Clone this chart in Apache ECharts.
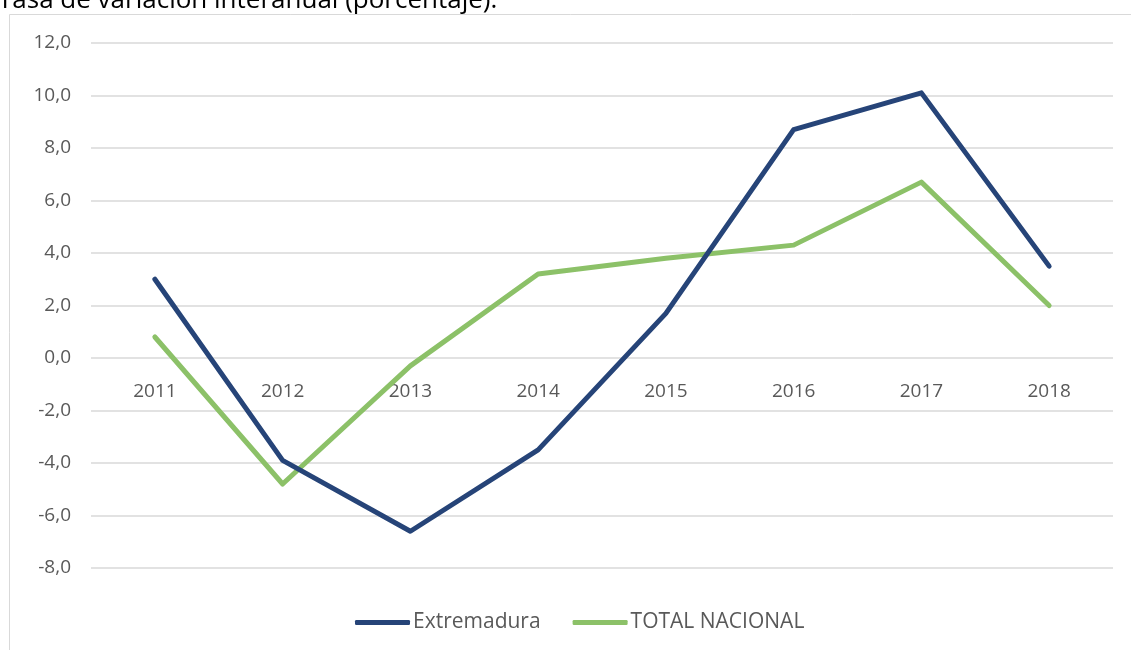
<!DOCTYPE html>
<html>
<head>
<meta charset="utf-8">
<script src="https://cdn.jsdelivr.net/npm/echarts@6/dist/echarts.min.js"></script>
<style>
  html, body { margin: 0; padding: 0; background: #fff; }
  #chart { width: 1131px; height: 650px; }
</style>
</head>
<body>
<div id="chart"></div>
<script>
// Year-on-year variation rate (%)
const years = ['2011', '2012', '2013', '2014', '2015', '2016', '2017', '2018'];
const extremadura = [3.0, -3.9, -6.6, -3.5, 1.7, 8.7, 10.1, 3.5];
const totalNacional = [0.8, -4.8, -0.3, 3.2, 3.8, 4.3, 6.7, 2.0];
const yTicks = { min: -8, max: 12, interval: 2 };

const FONT = '"Open Sans", "Noto Sans", sans-serif';
const GRID = { left: 91, right: 18, top: 43, bottom: 82 };
const CHART_H = 650;

// Category labels sit on the zero line: shift the x axis up from the
// bottom edge of the plot by the distance between min and 0.
const plotH = CHART_H - GRID.top - GRID.bottom;
const zeroOffset = -plotH * (0 - yTicks.min) / (yTicks.max - yTicks.min);

const chart = echarts.init(document.getElementById('chart'), null, { renderer: 'canvas' });

chart.setOption({
  animation: false,
  backgroundColor: '#ffffff',
  textStyle: { fontFamily: FONT },
  graphic: [
    {
      type: 'rect',
      shape: { x: 9.5, y: 14.5, width: 1200, height: 700 },
      style: { fill: 'none', stroke: '#d9d9d9', lineWidth: 1 },
      z: -10
    },
    {
      type: 'text',
      x: -2,
      y: -12,
      style: {
        text: 'Tasa de variación interanual (porcentaje).',
        fontFamily: FONT,
        fontSize: 26,
        fill: '#000000'
      }
    }
  ],
  grid: GRID,
  legend: {
    top: 607,
    left: 350,
    itemWidth: 55,
    itemHeight: 5,
    itemGap: 32,
    icon: 'roundRect',
    textStyle: { fontSize: 21, color: '#595959', fontFamily: FONT, padding: [0, 0, 0, -2] },
    data: ['Extremadura', 'TOTAL NACIONAL']
  },
  xAxis: {
    type: 'category',
    data: years,
    boundaryGap: true,
    offset: zeroOffset,
    axisLine: { show: false },
    axisTick: { show: false },
    axisLabel: { color: '#595959', fontSize: 19, margin: 24, fontFamily: FONT }
  },
  yAxis: {
    type: 'value',
    min: yTicks.min,
    max: yTicks.max,
    interval: yTicks.interval,
    axisLine: { show: false },
    axisTick: { show: false },
    axisLabel: {
      color: '#595959',
      fontSize: 19,
      margin: 20,
      fontFamily: FONT,
      formatter: v => v.toFixed(1).replace('.', ',')
    },
    splitLine: { lineStyle: { color: '#d9d9d9', width: 1.5 } }
  },
  series: [
    {
      name: 'Extremadura',
      type: 'line',
      data: extremadura,
      symbol: 'none',
      lineStyle: { color: '#264478', width: 5, cap: 'round', join: 'round' },
      itemStyle: { color: '#264478' },
      z: 3
    },
    {
      name: 'TOTAL NACIONAL',
      type: 'line',
      data: totalNacional,
      symbol: 'none',
      lineStyle: { color: '#8cc168', width: 5, cap: 'round', join: 'round' },
      itemStyle: { color: '#8cc168' },
      z: 2
    }
  ]
});
</script>
</body>
</html>
